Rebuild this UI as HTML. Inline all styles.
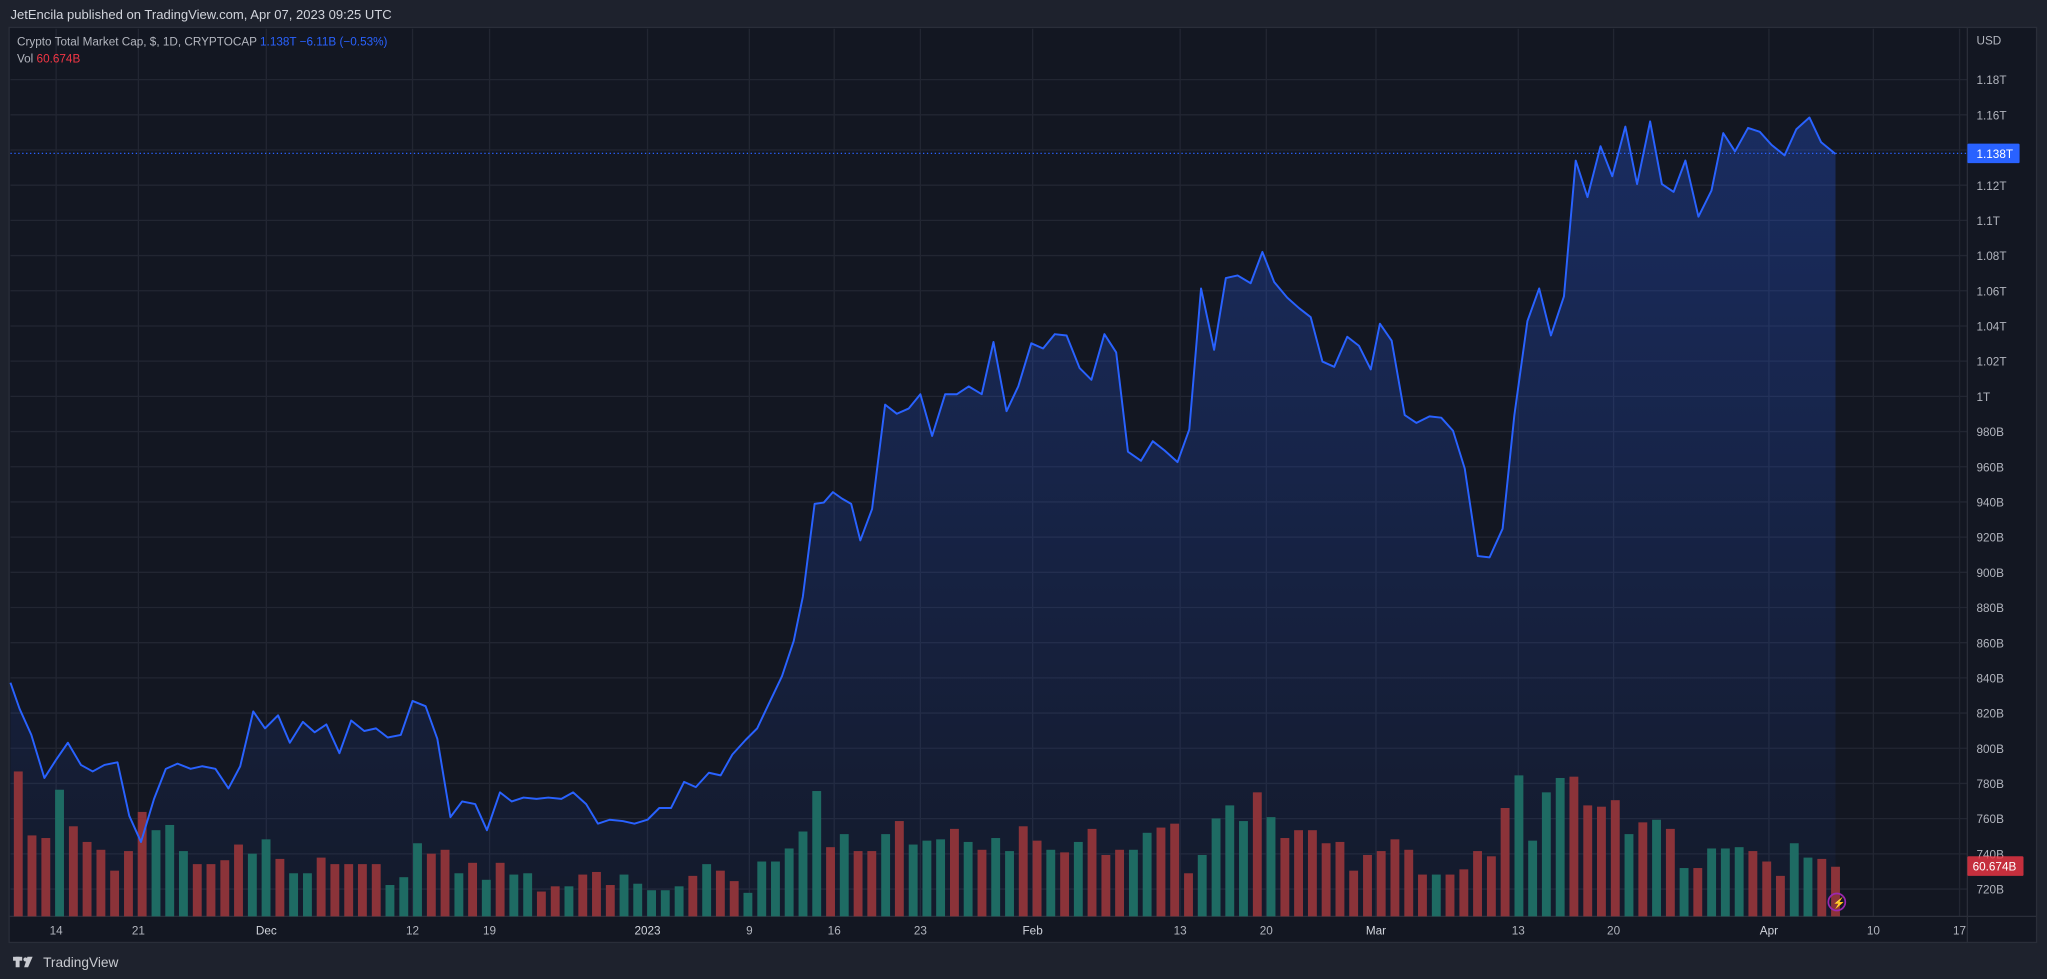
<!DOCTYPE html>
<html><head><meta charset="utf-8"><style>
html,body{margin:0;padding:0;background:#1e222d;overflow:hidden}
svg{display:block}
text{font-family:"Liberation Sans",sans-serif}
</style></head><body>
<svg id="s" width="2047" height="979" viewBox="0 0 1568 750" preserveAspectRatio="none" xmlns="http://www.w3.org/2000/svg">
<defs>
<linearGradient id="g" x1="0" y1="0" x2="0" y2="1">
<stop offset="0" stop-color="#2962ff" stop-opacity="0.28"/>
<stop offset="1" stop-color="#2962ff" stop-opacity="0.04"/>
</linearGradient>
</defs>
<rect x="0" y="0" width="1568" height="750" fill="#1e222d"/>
<rect x="7" y="21" width="1553" height="701" fill="#131722" stroke="#2a2e39" stroke-width="1"/>
<g id="grid" stroke="#222632" stroke-width="1"></g>
<line x1="1507" y1="21" x2="1507" y2="722" stroke="#2a2e39"/>
<line x1="7" y1="702" x2="1560" y2="702" stroke="#2a2e39"/>
<path id="area" fill="url(#g)"/>
<g id="vol"></g>
<path id="line" fill="none" stroke="#2962ff" stroke-width="1.5" stroke-linejoin="round"/>
<line x1="8" y1="117.5" x2="1507" y2="117.5" stroke="#2962ff" stroke-width="1" stroke-dasharray="1,2"/>
<g id="labels" fill="#b2b5be" font-size="9"></g>
<text x="1514" y="34" fill="#b2b5be" font-size="9">USD</text>
<rect x="1507" y="110" width="40" height="15" fill="#2962ff" rx="1"/>
<text x="1514" y="121" fill="#fff" font-size="9">1.138T</text>
<rect x="1507" y="656" width="43" height="15" fill="#f23645" opacity="0.8" rx="1"/>
<text x="1511" y="667" fill="#fff" font-size="9">60.674B</text>
<circle cx="1407" cy="691" r="6.5" fill="none" stroke="#9c27b0" stroke-width="1.3"/>
<text x="1404" y="694.5" fill="#ce93d8" font-size="8">⚡</text>
<text x="8" y="14.5" fill="#d1d4dc" font-size="10">JetEncila published on TradingView.com, Apr 07, 2023 09:25 UTC</text>
<text x="13" y="35" fill="#b2b5be" font-size="9">Crypto Total Market Cap, $, 1D, CRYPTOCAP <tspan fill="#2962ff"> 1.138T  −6.11B (−0.53%)</tspan></text>
<text x="13" y="48" fill="#b2b5be" font-size="9">Vol <tspan fill="#f23645"> 60.674B</tspan></text>
<rect x="10" y="733" width="7" height="3" fill="#c8cad0"/><rect x="12" y="733" width="3" height="8" fill="#c8cad0"/>
<circle cx="19.5" cy="735" r="1.6" fill="#c8cad0"/><path d="M21 733h4l-3.5 8h-3z" fill="#c8cad0"/>
<text x="33" y="741" fill="#c8cad0" font-size="10.5">TradingView</text>
</svg>
<script>
const NS="http://www.w3.org/2000/svg";
function el(t,a,p,txt){const e=document.createElementNS(NS,t);for(const k in a)e.setAttribute(k,a[k]);if(txt!==undefined)e.textContent=txt;document.getElementById(p).appendChild(e);return e;}
const prices=["1.18T","1.16T","1.14T","1.12T","1.1T","1.08T","1.06T","1.04T","1.02T","1T","980B","960B","940B","920B","900B","880B","860B","840B","820B","800B","780B","760B","740B","720B"];
prices.forEach((p,i)=>{const y=61+i*26.96;el("line",{x1:8,y1:y,x2:1507,y2:y},"grid");el("text",{x:1514,y:y+3.5},"labels",p);});
const xl=[[43,"14"],[106,"21"],[204,"Dec"],[316,"12"],[375,"19"],[496,"2023"],[574,"9"],[639,"16"],[705,"23"],[791,"Feb"],[904,"13"],[970,"20"],[1054,"Mar"],[1163,"13"],[1236,"20"],[1355,"Apr"],[1435,"10"],[1501,"17"]];
xl.forEach(([x,t])=>{el("line",{x1:x,y1:22,x2:x,y2:702},"grid");const e=el("text",{x:x,y:716,"text-anchor":"middle"},"labels",t);if(t=="2023"||t=="Dec"||t=="Feb"||t=="Mar"||t=="Apr")e.setAttribute("fill","#d1d4dc");});
const pts=[[8,523],[15,543],[24,563],[34,596],[43,582],[52,569],[62,586],[71,591],[80,586],[90,584],[99,625],[108,645],[118,612],[127,589],[136,585],[146,589],[155,587],[165,589],[175,604],[184,587],[194,545],[203,558],[213,548],[222,569],[232,553],[241,561],[250,555],[260,577],[269,552],[279,560],[288,558],[297,565],[307,563],[316,537],[326,541],[335,566],[345,626],[354,614],[364,616],[373,636],[383,607],[392,614],[401,611],[411,612],[420,611],[430,612],[439,607],[449,616],[458,631],[467,628],[477,629],[486,631],[496,628],[505,619],[514,619],[524,599],[533,603],[543,592],[552,594],[561,578],[571,567],[580,558],[589,539],[599,518],[608,491],[615,457],[624,386],[631,385],[638,377],[645,382],[652,386],[659,414],[668,390],[678,310],[687,317],[696,313],[705,302],[714,334],[724,302],[733,302],[742,296],[752,302],[761,262],[771,315],[780,296],[790,263],[799,267],[808,256],[817,257],[827,282],[836,291],[846,256],[855,270],[864,346],[874,353],[883,338],[892,345],[902,354],[911,329],[920,221],[930,268],[939,213],[948,211],[958,217],[967,193],[976,216],[986,228],[995,236],[1004,243],[1013,277],[1022,281],[1032,258],[1041,265],[1050,283],[1057,248],[1066,261],[1076,318],[1085,324],[1095,319],[1104,320],[1113,330],[1122,359],[1132,426],[1141,427],[1151,405],[1160,318],[1170,246],[1179,221],[1188,257],[1198,227],[1207,123],[1216,151],[1226,112],[1235,135],[1245,97],[1254,141],[1264,93],[1273,141],[1282,147],[1291,123],[1301,166],[1311,146],[1320,102],[1329,116],[1339,98],[1348,101],[1357,111],[1367,119],[1376,99],[1386,90],[1395,109],[1406,118]];
const d=pts.map((p,i)=>(i?"L":"M")+p[0]+","+p[1]).join("");
document.getElementById("line").setAttribute("d",d);
document.getElementById("area").setAttribute("d",d+"L1406,702L8,702Z");
const vs="591r 640r 642r 605g 633r 645r 651r 667r 652r 622r 636g 632g 652g 662r 662r 659r 647r 654g 643g 658r 669g 669g 657r 662r 662r 662r 662r 678g 672g 646g 654r 651r 669g 661r 674g 661r 670g 669g 683r 679r 679g 670r 668r 678r 670g 677g 682g 682g 679g 671r 662g 667r 675r 684g 660g 660g 650g 637g 606g 649r 639g 652r 652r 639g 629r 647g 644g 643g 635r 645g 651r 642g 652g 633r 644r 651g 653r 645g 635r 655r 651r 651g 638g 634r 631r 669r 655g 627g 617g 629g 607r 626g 642r 636r 636r 646r 645r 667r 655r 652r 643r 651r 670r 670g 670r 666r 652r 656r 619r 594g 644g 607g 596g 595r 617r 618r 613r 639g 630r 628g 635r 665g 665r 650g 650g 649g 652r 660r 671r 646g 657g 658r 664r".split(" ");
const n=vs.length, x0=14, x1=1406, st=(x1-x0)/(n-1);
vs.forEach((v,i)=>{const top=parseFloat(v),c=v.slice(-1)=="g"?"#1e6b63":"#8b3339";const x=x0+i*st;el("rect",{x:(x-3.4).toFixed(1),y:top,width:6.8,height:702-top,fill:c},"vol");});
</script>
</body></html>
